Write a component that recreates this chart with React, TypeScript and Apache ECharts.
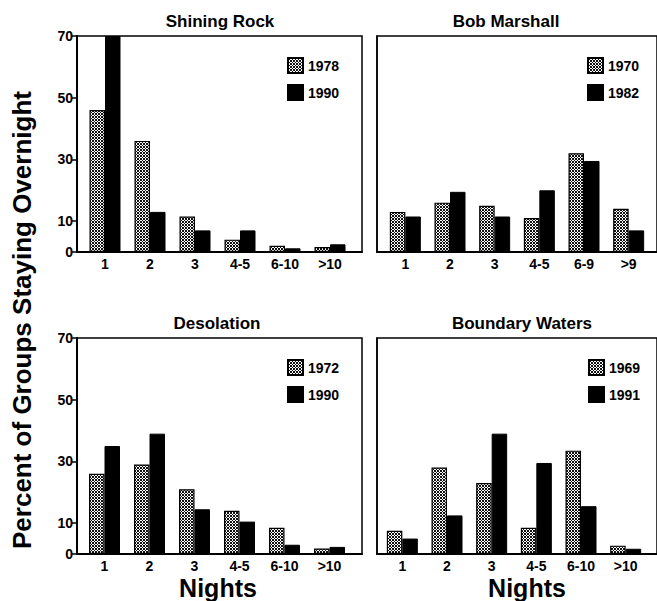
import React, { useEffect, useRef } from "react";
import * as echarts from "echarts";

// ---- Data ----
const nightsA = ["1", "2", "3", "4-5", "6-10", ">10"];
const nightsB = ["1", "2", "3", "4-5", "6-9", ">9"];
const yTicks = [0, 10, 30, 50, 70];

const shiningRock1978 = [46, 36, 11.5, 4, 2, 1.6];
const shiningRock1990 = [70, 13, 7, 7, 1.2, 2.5];
const bobMarshall1970 = [13, 16, 15, 11, 32, 14];
const bobMarshall1982 = [11.5, 19.5, 11.5, 20, 29.5, 7];
const desolation1972 = [26, 29, 21, 14, 8.5, 1.8];
const desolation1990 = [35, 39, 14.5, 10.5, 3, 2.3];
const boundaryWaters1969 = [7.5, 28, 23, 8.5, 33.5, 2.7];
const boundaryWaters1991 = [5, 12.5, 39, 29.5, 15.5, 1.7];

const FONT = "'Liberation Sans', Arial, Helvetica, sans-serif";

function makePattern() {
  const c = document.createElement("canvas");
  c.width = 3;
  c.height = 3;
  const ctx = c.getContext("2d")!;
  ctx.fillStyle = "#ffffff";
  ctx.fillRect(0, 0, 3, 3);
  ctx.fillStyle = "#111111";
  const on = [
    [0, 0], [2, 0], [1, 1], [0, 2], [2, 2],
  ];
  on.forEach(([x, y]) => ctx.fillRect(x, y, 1, 1));
  return c;
}

export default function App() {
  const ref = useRef<HTMLDivElement>(null);

  useEffect(() => {
    if (!ref.current) return;
    const chart = echarts.init(ref.current, undefined, { renderer: "svg" });
    const pattern = { image: makePattern(), repeat: "repeat" };

    const panels = [
      { title: "Shining Rock", tx: 220, ty: 21, L: 77, T: 36, W: 285, bl: 82.5, bw: 270, cats: nightsA,
        names: ["1978", "1990"], data: [shiningRock1978, shiningRock1990], labels: true, lx: 287 },
      { title: "Bob Marshall", tx: 506, ty: 21, L: 377, T: 36, W: 283, bl: 383, bw: 268, cats: nightsB,
        names: ["1970", "1982"], data: [bobMarshall1970, bobMarshall1982], labels: false, lx: 587 },
      { title: "Desolation", tx: 217, ty: 323, L: 77, T: 338, W: 285, bl: 82, bw: 270, cats: nightsA,
        names: ["1972", "1990"], data: [desolation1972, desolation1990], labels: true, lx: 287 },
      { title: "Boundary Waters", tx: 522, ty: 323, L: 377, T: 338, W: 283, bl: 380, bw: 268, cats: nightsA,
        names: ["1969", "1991"], data: [boundaryWaters1969, boundaryWaters1991], labels: false, lx: 588 },
    ];
    const H = 216;

    const grid: any[] = [];
    const xAxis: any[] = [];
    const yAxis: any[] = [];
    const series: any[] = [];
    const legend: any[] = [];
    const graphic: any[] = [];

    panels.forEach((p, i) => {
      grid.push({
        left: p.L, top: p.T, width: p.W, height: H, show: true,
        borderColor: "#000", borderWidth: 1.5, backgroundColor: "transparent",
      });
      grid.push({ left: p.bl, top: p.T, width: p.bw, height: H });
      xAxis.push({
        type: "value", gridIndex: 2 * i, min: 0, max: 1,
        axisLine: { show: true, lineStyle: { color: "#000", width: 2 } },
        axisTick: { show: false }, axisLabel: { show: false }, splitLine: { show: false },
      });
      xAxis.push({
        type: "category", gridIndex: 2 * i + 1, data: p.cats,
        axisLine: { show: false }, axisTick: { show: false }, splitLine: { show: false },
        axisLabel: { color: "#000", fontWeight: "bold", fontSize: 14, fontFamily: FONT, margin: 5 },
      });
      yAxis.push({
        type: "value", gridIndex: 2 * i, min: 0, max: 70,
        axisLine: { show: true, lineStyle: { color: "#000", width: p.labels ? 2 : 1.5 } },
        axisTick: { show: p.labels, customValues: yTicks, length: 5, lineStyle: { color: "#000", width: 1.5 } },
        axisLabel: { show: p.labels, customValues: yTicks, color: "#000", fontWeight: "bold", fontSize: 14, fontFamily: FONT, margin: 4 },
        splitLine: { show: false },
      });
      yAxis.push({
        type: "value", gridIndex: 2 * i + 1, min: 0, max: 70, show: false, splitLine: { show: false },
      });
      series.push({
        type: "bar", name: p.names[0], xAxisIndex: 2 * i + 1, yAxisIndex: 2 * i + 1,
        data: p.data[0], barWidth: 15.5, barGap: "0%",
        itemStyle: { color: pattern, borderColor: "#000", borderWidth: 1.2 },
      });
      series.push({
        type: "bar", name: p.names[1], xAxisIndex: 2 * i + 1, yAxisIndex: 2 * i + 1,
        data: p.data[1], barWidth: 15.5, barGap: "0%",
        itemStyle: { color: "#000", borderColor: "#000", borderWidth: 1 },
      });
      legend.push({
        data: p.names, left: p.lx, top: p.T + 21, orient: "vertical", icon: "rect",
        itemWidth: 15, itemHeight: 15, itemGap: 10, selectedMode: false, padding: 0,
        textStyle: { color: "#000", fontWeight: "bold", fontSize: 14, fontFamily: FONT },
      });
      graphic.push({
        type: "text", x: p.tx, y: p.ty,
        style: { text: p.title, fill: "#000", font: `bold 17px ${FONT}`, textAlign: "center", textVerticalAlign: "middle", align: "center", verticalAlign: "middle" },
      });
    });

    graphic.push({
      type: "text", x: 218, y: 588,
      style: { text: "Nights", fill: "#000", font: `bold 25px ${FONT}`, textAlign: "center", textVerticalAlign: "middle", align: "center", verticalAlign: "middle" },
    });
    graphic.push({
      type: "text", x: 527, y: 588,
      style: { text: "Nights", fill: "#000", font: `bold 25px ${FONT}`, textAlign: "center", textVerticalAlign: "middle", align: "center", verticalAlign: "middle" },
    });
    graphic.push({
      type: "text", x: 22, y: 320, rotation: Math.PI / 2,
      style: { text: "Percent of Groups Staying Overnight", fill: "#000", font: `bold 26px ${FONT}`, textAlign: "center", textVerticalAlign: "middle", align: "center", verticalAlign: "middle" },
    });

    chart.setOption({
      animation: false,
      backgroundColor: "#fff",
      grid, xAxis, yAxis, series, legend, graphic,
    });
    return () => chart.dispose();
  }, []);

  return (
    <div
      ref={ref}
      style={{ position: "fixed", left: 0, top: 0, width: 657, height: 601, background: "#fff" }}
    />
  );
}
